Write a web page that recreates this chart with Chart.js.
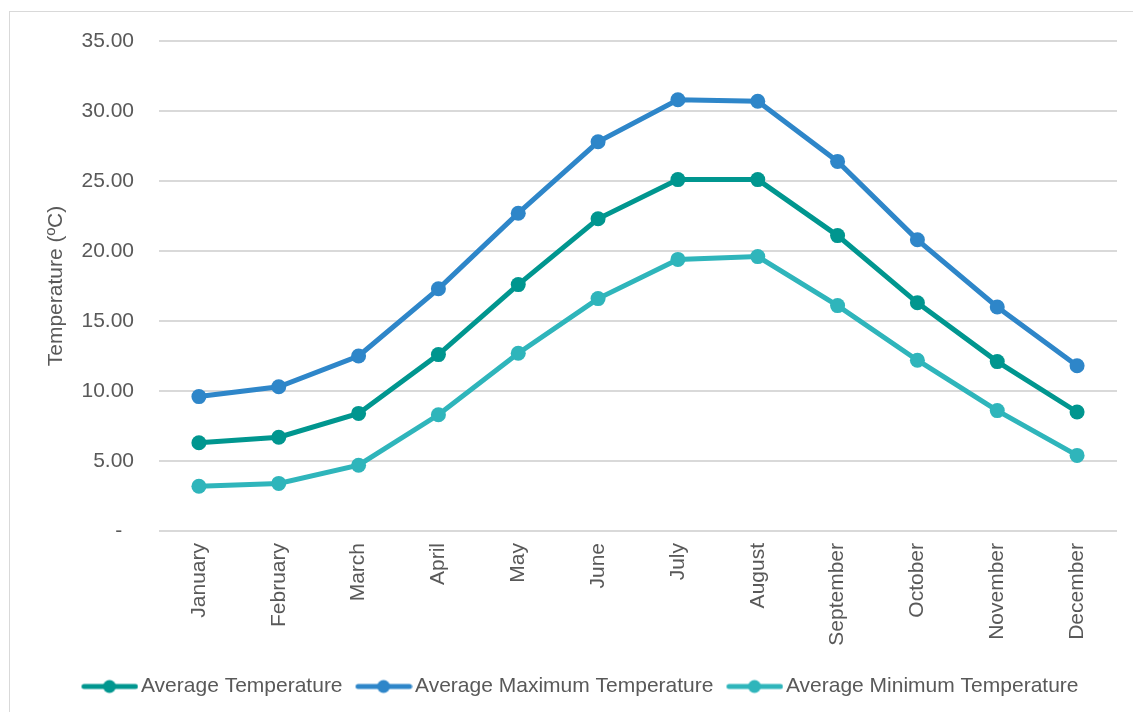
<!DOCTYPE html>
<html>
<head>
<meta charset="utf-8">
<script src="https://cdn.jsdelivr.net/npm/chart.js@4"></script>
<style>
  html, body { margin: 0; padding: 0; background: #fff; }
  body { width: 1133px; height: 712px; overflow: hidden; position: relative; }
  .frame { position: absolute; left: 9px; top: 11px; width: 1200px; height: 800px; border: 1px solid #d9d9d9; }
  #tempChart { position: absolute; left: 0; top: 0; }
</style>
</head>
<body>
<div class="frame"></div>
<canvas id="tempChart" width="1133" height="712"></canvas>
<script>
const months = ['January', 'February', 'March', 'April', 'May', 'June', 'July',
    'August', 'September', 'October', 'November', 'December'];

const avgTemp = [6.3, 6.7, 8.4, 12.6, 17.6, 22.3, 25.1, 25.1, 21.1, 16.3, 12.1, 8.5];
const avgMaxTemp = [9.6, 10.3, 12.5, 17.3, 22.7, 27.8, 30.8, 30.7, 26.4, 20.8, 16.0, 11.8];
const avgMinTemp = [3.2, 3.4, 4.7, 8.3, 12.7, 16.6, 19.4, 19.6, 16.1, 12.2, 8.6, 5.4];

const yTicks = [0, 5, 10, 15, 20, 25, 30, 35];

const seriesNames = ['Average Temperature', 'Average Maximum Temperature', 'Average Minimum Temperature'];
const seriesColors = ['#00968f', '#2e86c9', '#2fb5bb'];

const textColor = '#595959';
const gridColor = '#d9d9d9';
const fontFamily = '"Liberation Sans", Arial, sans-serif';
const fontSize = 21;

// legend marker: thick line with a dot in the middle,
// shifted right inside the image so it sits close to its label
function legendMarker(color) {
    const c = document.createElement('canvas');
    c.width = 70;
    c.height = 16;
    const ctx = c.getContext('2d');
    ctx.strokeStyle = color;
    ctx.fillStyle = color;
    ctx.lineWidth = 5;
    ctx.lineCap = 'round';
    ctx.beginPath();
    ctx.moveTo(15.5, 8);
    ctx.lineTo(67, 8);
    ctx.stroke();
    ctx.beginPath();
    ctx.arc(41, 8, 6.5, 0, Math.PI * 2);
    ctx.fill();
    return c;
}

const markers = seriesColors.map(legendMarker);
const seriesData = [avgTemp, avgMaxTemp, avgMinTemp];

new Chart(document.getElementById('tempChart'), {
    type: 'line',
    data: {
        labels: months,
        datasets: seriesNames.map((name, i) => ({
            label: name,
            data: seriesData[i],
            borderColor: seriesColors[i],
            backgroundColor: seriesColors[i],
            borderWidth: 5,
            pointRadius: 7.5,
            pointBorderWidth: 0,
            pointStyle: 'circle',
            tension: 0,
            fill: false
        }))
    },
    options: {
        responsive: false,
        animation: false,
        devicePixelRatio: 1,
        layout: {
            padding: { top: 41, right: 16, bottom: 5, left: 38 }
        },
        scales: {
            x: {
                offset: true,
                grid: { display: false },
                border: { display: false },
                ticks: {
                    color: textColor,
                    font: { family: fontFamily, size: fontSize },
                    minRotation: 90,
                    maxRotation: 90,
                    padding: 4
                },
                afterFit: (scale) => { scale.height = 137; }
            },
            y: {
                min: 0,
                max: 35,
                afterBuildTicks: (scale) => { scale.ticks = yTicks.map(v => ({ value: v })); },
                grid: { color: gridColor, lineWidth: 2, drawTicks: false },
                border: { display: false },
                ticks: {
                    color: textColor,
                    font: { family: fontFamily, size: fontSize },
                    padding: 25,
                    callback: (v) => v === 0 ? '-  ' : v.toFixed(2)
                },
                title: {
                    display: true,
                    text: 'Temperature (ºC)',
                    color: textColor,
                    font: { family: fontFamily, size: fontSize },
                    padding: { top: 6, bottom: 0 }
                },
                afterFit: (scale) => { scale.width = 121; }
            }
        },
        plugins: {
            legend: {
                display: true,
                position: 'bottom',
                labels: {
                    color: textColor,
                    font: { family: fontFamily, size: fontSize },
                    usePointStyle: true,
                    pointStyleWidth: 54,
                    padding: 8,
                    generateLabels: (chart) => chart.data.datasets.map((ds, i) => ({
                        text: ds.label,
                        pointStyle: markers[i],
                        fillStyle: ds.borderColor,
                        strokeStyle: ds.borderColor,
                        lineWidth: 0,
                        fontColor: textColor,
                        datasetIndex: i,
                        hidden: false
                    }))
                }
            },
            tooltip: { enabled: false }
        }
    }
});
</script>
</body>
</html>
